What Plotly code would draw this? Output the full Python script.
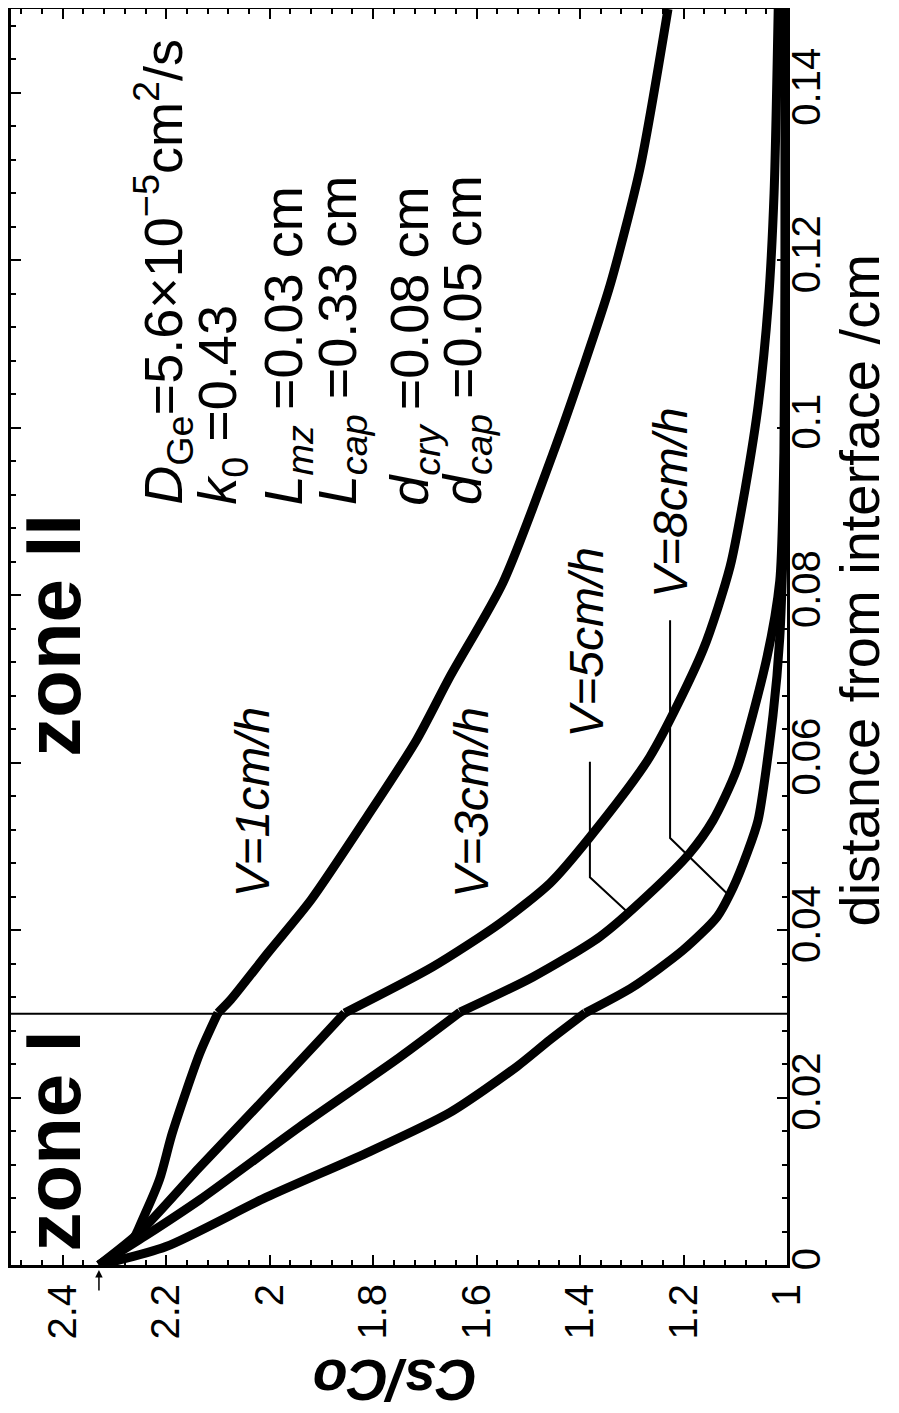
import plotly.graph_objects as go

# ---------------- data ----------------
# distance from interface (cm) and Cs/Co for each growth velocity
d_v1 = [0, 0.003, 0.0054, 0.0102, 0.0158, 0.0253, 0.0301, 0.0317, 0.0373, 0.0436,
        0.0535, 0.0627, 0.0702, 0.0815, 0.0973, 0.107, 0.117, 0.131, 0.150]
cs_v1 = [2.33, 2.265, 2.246, 2.213, 2.188, 2.135, 2.10, 2.075, 2.003, 1.92,
         1.812, 1.716, 1.652, 1.549, 1.45, 1.395, 1.342, 1.284, 1.23]

d_v3 = [0, 0.004, 0.0117, 0.0201, 0.0269, 0.0301, 0.0356, 0.0408, 0.0456, 0.0511,
        0.0607, 0.0735, 0.0834, 0.093, 0.103, 0.115, 0.128, 0.150]
cs_v3 = [2.33, 2.25, 2.135, 2.006, 1.903, 1.855, 1.685, 1.555, 1.458, 1.381,
         1.265, 1.162, 1.11, 1.08, 1.055, 1.036, 1.025, 1.017]

d_v5 = [0, 0.0035, 0.0078, 0.0165, 0.0248, 0.0302, 0.0344, 0.0392, 0.0444, 0.0492,
        0.0531, 0.0592, 0.0725, 0.0817, 0.097, 0.12, 0.150]
cs_v5 = [2.33, 2.24, 2.135, 1.942, 1.749, 1.632, 1.491, 1.362, 1.265, 1.188,
         1.143, 1.097, 1.039, 1.014, 1.006, 1.004, 1.004]

d_v8 = [0, 0.0022, 0.0081, 0.0134, 0.0182, 0.0237, 0.0269, 0.0301, 0.0332, 0.0376,
        0.0416, 0.0451, 0.0492, 0.0531, 0.0657, 0.0749, 0.09, 0.11, 0.150]
cs_v8 = [2.33, 2.2, 2.006, 1.812, 1.652, 1.522, 1.458, 1.39, 1.298, 1.201,
         1.135, 1.104, 1.077, 1.056, 1.027, 1.014, 1.006, 1.003, 1.002]

series_names = ["V=1cm/h", "V=3cm/h", "V=5cm/h", "V=8cm/h"]
zone_boundary = 0.03  # L_mz

# leader lines for the V=5 and V=8 labels (Cs/Co, distance)
lead5_cs = [1.381, 1.381, 1.309]
lead5_d = [0.0601, 0.0463, 0.0422]
lead8_cs = [1.226, 1.226, 1.110]
lead8_d = [0.0770, 0.0510, 0.0440]

param_lines = [
    "<i>D</i><sub>Ge</sub>=5.6×10<sup>−5</sup>cm<sup>2</sup>/s",
    "<i>k</i><sub>0</sub> =0.43",
    "<i>L<sub>mz</sub></i> =0.03 cm",
    "<i>L<sub>cap</sub></i> =0.33 cm",
    "<i>d<sub>cry</sub></i> =0.08 cm",
    "<i>d<sub>cap</sub></i> =0.05 cm",
]

FONT = "Liberation Sans, Arial, Helvetica, sans-serif"

fig = go.Figure()

# curves: x = Cs/Co (reversed), y = distance  (chart is drawn rotated).
# Each curve is drawn as two smooth pieces meeting at the zone boundary kink.
for d, cs, name in [(d_v1, cs_v1, series_names[0]), (d_v3, cs_v3, series_names[1]),
                    (d_v5, cs_v5, series_names[2]), (d_v8, cs_v8, series_names[3])]:
    k = max(i for i, v in enumerate(d) if v <= zone_boundary + 0.001)
    for seg in (slice(0, k + 1), slice(k, len(d))):
        fig.add_trace(go.Scatter(x=cs[seg], y=d[seg], mode="lines", name=name,
                                 line=dict(color="black", width=9, shape="spline",
                                           smoothing=0.7),
                                 showlegend=False, hoverinfo="skip"))

for cs, d in [(lead5_cs, lead5_d), (lead8_cs, lead8_d)]:
    fig.add_trace(go.Scatter(x=cs, y=d, mode="lines",
                             line=dict(color="black", width=2),
                             showlegend=False, hoverinfo="skip"))

# zone boundary line
fig.add_shape(type="line", xref="paper", yref="y", x0=0, x1=1,
              y0=zone_boundary, y1=zone_boundary,
              line=dict(color="black", width=2))

ann = []
# zone labels
ann.append(dict(x=2.418, y=0.0148, xref="x", yref="y", text="<b>zone I</b>",
                textangle=-90, showarrow=False, xanchor="center", yanchor="middle",
                font=dict(family=FONT, size=78, color="black")))
ann.append(dict(x=2.418, y=0.0752, xref="x", yref="y", text="<b>zone II</b>",
                textangle=-90, showarrow=False, xanchor="center", yanchor="middle",
                font=dict(family=FONT, size=78, color="black")))

# velocity labels
for txt, x, y in [("<i>V=1cm/h</i>", 2.033, 0.0553), ("<i>V=3cm/h</i>", 1.609, 0.0553),
                  ("<i>V=5cm/h</i>", 1.389, 0.0744), ("<i>V=8cm/h</i>", 1.226, 0.091)]:
    ann.append(dict(x=x, y=y, xref="x", yref="y", text=txt, textangle=-90,
                    showarrow=False, xanchor="center", yanchor="middle",
                    font=dict(family=FONT, size=48, color="black")))

# parameter block
param_x = [2.205, 2.093, 1.967, 1.862, 1.723, 1.621]
for txt, x in zip(param_lines, param_x):
    ann.append(dict(x=x, y=0.0905, xref="x", yref="y", text=txt, textangle=-90,
                    showarrow=False, xanchor="center", yanchor="bottom",
                    font=dict(family=FONT, size=54, color="black")))

# axis titles
ann.append(dict(x=1.094, y=0.537, xref="paper", yref="paper",
                text="distance from interface /cm", textangle=-90, showarrow=False,
                xanchor="center", yanchor="middle",
                font=dict(family=FONT, size=56, color="black")))
ann.append(dict(x=0.495, y=-0.0916, xref="paper", yref="paper",
                text="<b><i>Cs/Co</i></b>", textangle=180, showarrow=False,
                xanchor="center", yanchor="middle",
                font=dict(family=FONT, size=57, color="black")))

# small arrow marking the start value
ann.append(dict(x=2.33, y=-0.004, xref="x", yref="paper", text="", showarrow=True,
                ax=0, ay=22, arrowhead=2, arrowsize=1, arrowwidth=1.5,
                arrowcolor="black"))

# page body has an 8px default margin: figure is sized/offset to compensate
fig.update_layout(
    width=891, height=1405,
    margin=dict(l=3, r=112, t=1, b=148),
    paper_bgcolor="white", plot_bgcolor="white",
    annotations=ann,
    xaxis=dict(range=[2.5, 1.0], tick0=1.0, dtick=0.2, tickangle=-90,
               ticks="inside", ticklen=10, tickwidth=2, tickcolor="black",
               minor=dict(ticks="inside", tick0=1.0, dtick=0.04, ticklen=5,
                          tickwidth=1.5, tickcolor="black"),
               showline=True, linewidth=3, linecolor="black", mirror="ticks",
               showgrid=False, zeroline=False, automargin=False,
               tickfont=dict(family=FONT, size=40, color="black"),
               ticklabelstandoff=0),
    yaxis=dict(range=[0, 0.15], tick0=0, dtick=0.02, side="right", tickangle=-90,
               ticks="inside", ticklen=10, tickwidth=2, tickcolor="black",
               minor=dict(ticks="inside", tick0=0, dtick=0.004, ticklen=5,
                          tickwidth=1.5, tickcolor="black"),
               showline=True, linewidth=3, linecolor="black", mirror="ticks",
               showgrid=False, zeroline=False, automargin=False,
               tickfont=dict(family=FONT, size=40, color="black"),
               ticklabelstandoff=-18),
)

fig.write_html("out.html")
